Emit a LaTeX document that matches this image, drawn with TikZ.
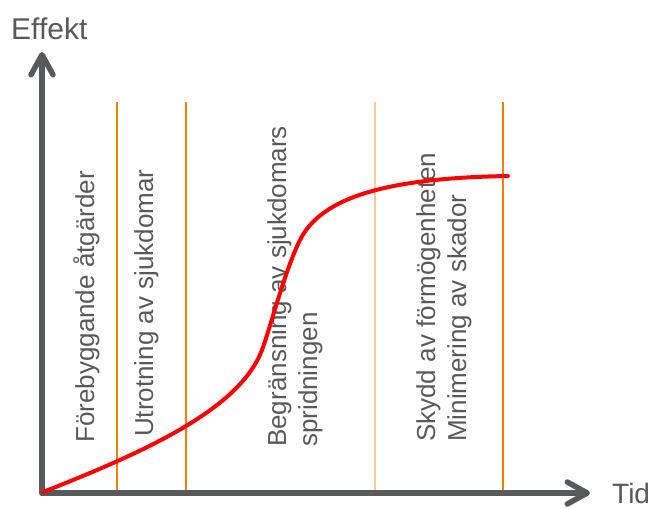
\documentclass[tikz,border=0pt]{standalone}
\usepackage{fontspec}
\setmainfont{Liberation Sans}
\usetikzlibrary{arrows.meta}
\definecolor{axisgray}{RGB}{88,89,91}
\definecolor{txtgray}{RGB}{89,89,89}
\definecolor{orangeline}{RGB}{245,128,0}
\definecolor{lightorange}{RGB}{255,200,150}
\definecolor{curvered}{RGB}{255,0,0}
\tikzset{
  axisline/.style={draw=axisgray, line width=5.5pt, line cap=round,
    -{Straight Barb[length=20pt,width=22pt,round]}},
  biglabel/.style={text=txtgray, font=\fontsize{30}{36}\selectfont, inner sep=0pt, anchor=base west},
  vlabel/.style={text=txtgray, font=\fontsize{26}{31}\selectfont, inner sep=0pt, anchor=base west, rotate=90},
  divider/.style={draw=orangeline, line width=2pt},
}
\begin{document}
\begin{tikzpicture}[x=1pt,y=-1pt]
\useasboundingbox (0,0) rectangle (654,509);
% dividers
\draw[divider, line width=1.3pt] (117,102) -- (117,493);
\draw[divider] (186,102) -- (186,493);
\draw[divider, draw=lightorange] (375,102) -- (375,493);
\draw[divider] (503,102) -- (503,493);
% labels
\node[vlabel] (l1) at (94,443) {Förebyggande åtgärder};
\node[vlabel] (l2) at (153,437) {Utrotning av sjukdomar};
\node[vlabel] (l3a) at (286,447) {Begränsning av sjukdomars};
\node[vlabel] (l3b) at (317,447) {spridningen};
\node[vlabel] (l4a) at (435,442) {Skydd av förmögenheten};
\node[vlabel] (l4b) at (466,442) {Minimering av skador};
% axes
\coordinate (O) at (42,493);
\coordinate (ytip) at (42,52);
\coordinate (xtip) at (590,493);
\draw[axisline] (O) -- (ytip);
\draw[axisline] (O) -- (xtip);
\node[biglabel] (eff) at (11,39) {Effekt};
\node[biglabel, font=\fontsize{28}{34}\selectfont] (tid) at (612,503.5) {Tid};
% curve
\draw[curvered, line width=4pt, line cap=round]
  (43,492) .. controls (150,450) and (240,408) .. (262,350)
           .. controls (270,329) and (285,270) .. (300,240)
           .. controls (322,196) and (390,178) .. (508,176);
\end{tikzpicture}
\end{document}
